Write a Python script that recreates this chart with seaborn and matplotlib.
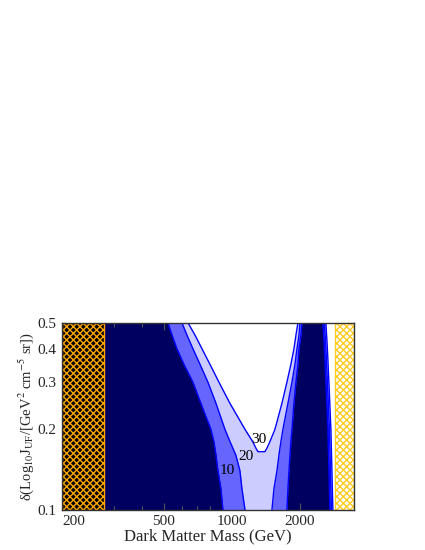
import numpy as np
import matplotlib
matplotlib.use('Agg')
import matplotlib.pyplot as plt
import seaborn as sns

# Valores (massa em GeV, delta adimensional)
delta = [0.10, 0.12, 0.14, 0.16, 0.18, 0.20, 0.25, 0.30, 0.35, 0.40, 0.45, 0.50]
left_10 = [912, 894, 867, 850, 832, 807, 729, 672, 613, 571, 543, 521]
left_20 = [1142, 1107, 1085, 1041, 980, 931, 850, 783, 722, 672, 632, 601]
right_20 = [1503, 1534, 1582, 1614, 1647, 1681, 1769, 1843, 1900, 1940, 1980, 2000]
right_10 = [1751, 1769, 1788, 1806, 1824, 1843, 1881, 1920, 1959, 1980, 2020, 2040]

delta_30 = [0.165, 0.17, 0.18, 0.20, 0.25, 0.30, 0.35, 0.40, 0.45, 0.50]
left_30 = [1303, 1277, 1235, 1142, 980, 876, 799, 737, 686, 639]
right_30 = [1400, 1428, 1473, 1550, 1664, 1751, 1824, 1881, 1920, 1959]

delta_edge = [0.1, 0.2, 0.3, 0.4, 0.5]
edge_10 = [2714, 2659, 2605, 2566, 2527]
edge_20 = [2755, 2700, 2645, 2605, 2566]
edge_30 = [2797, 2741, 2686, 2645, 2605]

mass_min, mass_max = 177, 3470
excl_low = 272
excl_high = 2860

contour_levels = ['10', '20', '30']
label_mass = [950, 1153, 1316]
label_delta = [0.140, 0.158, 0.184]

x_ticks = [200, 500, 1000, 2000]
x_minor = [300, 400, 600, 700, 800, 900, 3000]
y_ticks = [0.1, 0.2, 0.3, 0.4, 0.5]

navy = '#000060'
medium = '#6666ff'
light = '#ccccff'
line_blue = '#0000ff'

sns.set_style('ticks')
plt.rcParams['font.family'] = ['Liberation Serif', 'DejaVu Serif']
plt.rcParams['mathtext.fontset'] = 'stix'
plt.rcParams['hatch.linewidth'] = 1.0

fig = plt.figure(figsize=(4.25, 5.5), dpi=100)
ax = fig.add_axes([0.146, 0.073, 0.687, 0.340])
ax.set_xscale('log')
ax.set_yscale('log')
ax.set_facecolor(navy)

# faixas preenchidas
ax.fill_betweenx(delta, left_10, right_10, color=medium, lw=0)
ax.fill_betweenx(delta, left_20, right_20, color=light, lw=0)
ax.fill_betweenx(delta_30, left_30, right_30, color='white', lw=0)
ax.fill_betweenx(delta_edge, edge_10, mass_max, color=medium, lw=0)
ax.fill_betweenx(delta_edge, edge_20, mass_max, color=light, lw=0)
ax.fill_betweenx(delta_edge, edge_30, mass_max, color='white', lw=0)

# linhas de contorno
for xs in [left_10, left_20, right_20, right_10]:
    sns.lineplot(x=xs, y=delta, sort=False, estimator=None, color=line_blue, lw=1, ax=ax)
for xs in [edge_10, edge_20, edge_30]:
    sns.lineplot(x=xs, y=delta_edge, sort=False, estimator=None, color=line_blue, lw=1, ax=ax)
v_x = list(left_30[::-1]) + list(right_30)
v_y = list(delta_30[::-1]) + list(delta_30)
sns.lineplot(x=v_x, y=v_y, sort=False, estimator=None, color=line_blue, lw=1, ax=ax)

# regiões excluídas
ax.axvspan(mass_min, excl_low, facecolor='black', edgecolor='orange', hatch='xxxxx', lw=1, zorder=3)
ax.axvspan(excl_high, mass_max, facecolor='white', edgecolor='#ffcc22', hatch='xxxxx', lw=1, zorder=3)

for lab, xm, yd in zip(contour_levels, label_mass, label_delta):
    ax.text(xm, yd, lab, ha='center', va='center', fontsize=11, color='black', zorder=4)

ax.set_xlim(mass_min, mass_max)
ax.set_ylim(0.1, 0.5)
ax.set_xticks(x_ticks)
ax.set_xticklabels([str(t) for t in x_ticks])
ax.set_xticks(x_minor, minor=True)
ax.set_xticklabels([], minor=True)
ax.set_yticks(y_ticks)
ax.set_yticklabels([str(t) for t in y_ticks])
ax.yaxis.set_minor_locator(matplotlib.ticker.NullLocator())

ax.tick_params(which='both', direction='in', top=True, right=True, color='#555555', labelsize=11)
ax.tick_params(which='major', length=5, width=0.8, pad=4)
ax.tick_params(which='minor', length=3, width=0.8)
for s in ax.spines.values():
    s.set_color('#333333')
    s.set_linewidth(1)
    s.set_zorder(5)

ax.set_xlabel('Dark Matter Mass (GeV)', fontsize=12, labelpad=0)
ax.set_ylabel(r'δ(Log$_{10}$J$_{\rm UF}$/[GeV$^2$ cm$^{-5}$ sr])', fontsize=10.5, labelpad=1)

fig.savefig('out.png', dpi=100)
